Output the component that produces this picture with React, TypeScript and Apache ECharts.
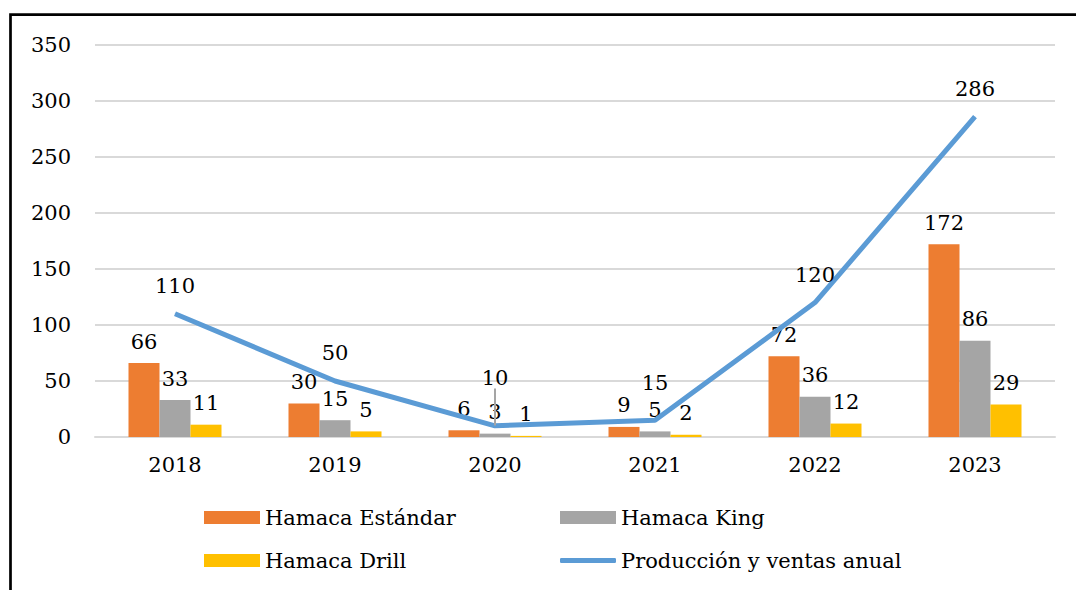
import React, { useEffect, useRef } from "react";
import * as echarts from "echarts";

const years = ["2018", "2019", "2020", "2021", "2022", "2023"];
const estandar = [66, 30, 6, 9, 72, 172];
const king = [33, 15, 3, 5, 36, 86];
const drill = [11, 5, 1, 2, 12, 29];
const total = [110, 50, 10, 15, 120, 286];
const yTicks = { min: 0, max: 350, interval: 50 };

const FONT = "DejaVu Serif";
const FS = 21;

export default function App() {
  const ref = useRef<HTMLDivElement>(null);
  useEffect(() => {
    const chart = echarts.init(ref.current!, null, { renderer: "svg" });
    const barLabel = {
      show: true,
      position: "top",
      distance: 11,
      color: "#000",
      fontFamily: FONT,
      fontSize: FS,
    };
    const legendBase = {
      orient: "horizontal",
      padding: 0,
      itemWidth: 56,
      itemHeight: 13,
      itemGap: 0,
      textStyle: { fontFamily: FONT, fontSize: 21, color: "#000" },
      selectedMode: false,
    };
    const lineData = total.map((v, i) =>
      i === 2 ? { value: v, labelLine: { show: true } } : { value: v }
    );
    chart.setOption({
      animation: false,
      backgroundColor: "#fff",
      textStyle: { fontFamily: FONT },
      grid: { left: 95, right: 21, top: 45, bottom: 153, containLabel: false },
      graphic: [
        {
          type: "rect",
          shape: { x: 10.5, y: 14.7, width: 1200, height: 800 },
          style: { fill: "none", stroke: "#000", lineWidth: 2.7 },
          silent: true,
          z: 100,
        },
      ],
      legend: [
        { ...legendBase, left: 204, top: 507, data: [{ name: "Hamaca Estándar", icon: "rect" }] },
        { ...legendBase, left: 560, top: 507, data: [{ name: "Hamaca King", icon: "rect" }] },
        { ...legendBase, left: 204, top: 550, data: [{ name: "Hamaca Drill", icon: "rect" }] },
        {
          ...legendBase,
          left: 560,
          top: 550,
          itemHeight: 5,
          data: [{ name: "Producción y ventas anual", icon: "roundRect" }],
        },
      ],
      xAxis: {
        type: "category",
        data: years,
        axisTick: { show: false },
        axisLine: { lineStyle: { color: "#d9d9d9", width: 2 } },
        axisLabel: { color: "#000", fontFamily: FONT, fontSize: FS, margin: 17 },
      },
      yAxis: {
        type: "value",
        min: yTicks.min,
        max: yTicks.max,
        interval: yTicks.interval,
        axisLine: { show: false },
        axisTick: { show: false },
        axisLabel: { color: "#000", fontFamily: FONT, fontSize: FS, margin: 24 },
        splitLine: { lineStyle: { color: "#d9d9d9", width: 2 } },
      },
      series: [
        {
          name: "Hamaca Estándar",
          type: "bar",
          data: estandar,
          barWidth: 31,
          barGap: "0%",
          itemStyle: { color: "#ed7d31" },
          label: barLabel,
        },
        {
          name: "Hamaca King",
          type: "bar",
          data: king,
          barWidth: 31,
          barGap: "0%",
          itemStyle: { color: "#a5a5a5" },
          label: barLabel,
        },
        {
          name: "Hamaca Drill",
          type: "bar",
          data: drill,
          barWidth: 31,
          barGap: "0%",
          itemStyle: { color: "#ffc000" },
          label: barLabel,
        },
        {
          name: "Producción y ventas anual",
          type: "line",
          data: lineData,
          color: "#5b9bd5",
          showSymbol: true,
          symbol: "circle",
          symbolSize: 0.5,
          lineStyle: { color: "#5b9bd5", width: 5 },
          itemStyle: { color: "#5b9bd5" },
          label: {
            show: true,
            position: "top",
            distance: 17,
            color: "#000",
            fontFamily: FONT,
            fontSize: FS,
          },
          labelLine: { show: false, lineStyle: { color: "#a5a5a5", width: 2 } },
          labelLayout: (p: any) =>
            p.dataIndex === 2 ? { dy: -20 } : p.dataIndex === 3 ? { dy: -9 } : {},
          z: 5,
        },
      ],
    });
    return () => chart.dispose();
  }, []);
  return (
    <div
      ref={ref}
      style={{ position: "fixed", left: 0, top: 0, width: 1076, height: 590 }}
    />
  );
}
